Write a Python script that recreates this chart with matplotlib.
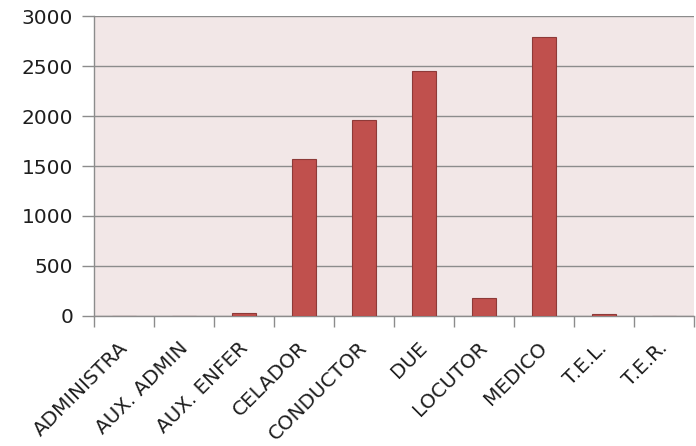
import matplotlib
matplotlib.use("Agg")
import matplotlib.pyplot as plt
import numpy as np

categories = ["ADMINISTRA", "AUX. ADMIN", "AUX. ENFER", "CELADOR", "CONDUCTOR",
              "DUE", "LOCUTOR", "MEDICO", "T.E.L.", "T.E.R."]
values = [0, 0, 25, 1570, 1960, 2450, 180, 2790, 15, 0]
y_ticks = [0, 500, 1000, 1500, 2000, 2500, 3000]

plt.rcParams["font.family"] = ["DejaVu Sans"]

fig = plt.figure(figsize=(6.96, 4.46), dpi=100)
ax = fig.add_axes([0.135, 0.292, 0.862, 0.6715])
ax.set_facecolor("#f2e7e7")

x = np.arange(len(categories))
ax.bar(x, values, width=0.39, color="#c0504d", edgecolor="#8e3a38", linewidth=0.8, zorder=3)

grid_c = "#8c8c8c"
ax.set_ylim(0, 3000)
ax.set_xlim(-0.5, len(categories) - 0.5)
ax.set_yticks(y_ticks)
ax.set_yticklabels([str(v) for v in y_ticks], fontsize=14.5, color="#1e1e1e")
ax.yaxis.grid(True, color=grid_c, linewidth=1.0, zorder=1)

# category separators as tick marks on the x axis
ax.set_xticks(np.arange(len(categories) + 1) - 0.5)
ax.set_xticklabels([])
ax.tick_params(axis="x", length=8, width=1, color=grid_c, direction="out")
ax.tick_params(axis="y", length=9, width=1, color=grid_c, direction="out", pad=6)

for s in ["top", "right"]:
    ax.spines[s].set_visible(False)
ax.spines["left"].set_color(grid_c)
ax.spines["bottom"].set_color(grid_c)
ax.spines["left"].set_linewidth(1.0)
ax.spines["bottom"].set_linewidth(1.0)

for i, lab in enumerate(categories):
    ax.annotate(lab, xy=(i, 0), xycoords=("data", "data"),
                xytext=(0.5, -21), textcoords="offset points",
                rotation=45, rotation_mode="anchor", ha="right", va="center",
                fontsize=14.3, color="#1e1e1e", annotation_clip=False)

fig.savefig("out.png", dpi=100)
